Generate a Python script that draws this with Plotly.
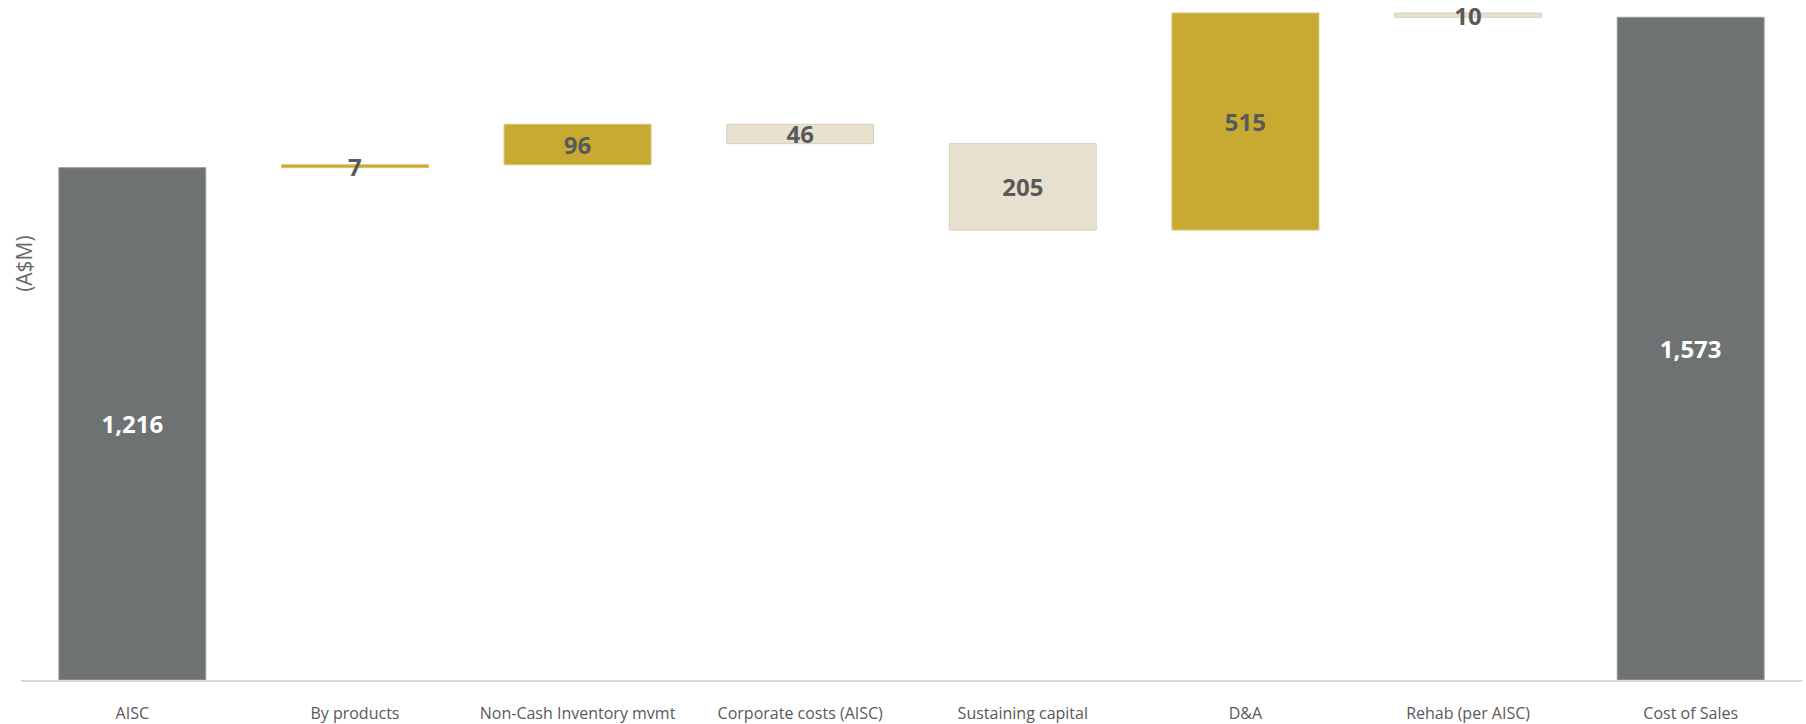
import plotly.graph_objects as go

# Reconciliation of AISC to cost of sales (A$M)
categories = [
    "AISC",
    "By products",
    "Non-Cash Inventory mvmt",
    "Corporate costs (AISC)",
    "Sustaining capital",
    "D&A",
    "Rehab (per AISC)",
    "Cost of Sales",
]
values = [1216, 7, 96, -46, -205, 515, -10, 1573]
measures = ["absolute", "relative", "relative", "relative",
            "relative", "relative", "relative", "total"]

GREY = "#6e7273"
GOLD = "#c8aa32"
BEIGE = "#e9e1cf"
LABEL = "#595959"

labels = [f"{abs(v):,}" for v in values]
label_colors = ["white" if m != "relative" else LABEL for m in measures]

fig = go.Figure(
    go.Waterfall(
        x=categories,
        y=values,
        measure=measures,
        text=labels,
        textposition="inside",
        constraintext="none",
        insidetextanchor="middle",
        cliponaxis=False,
        textfont=dict(family="Open Sans", size=24, color=label_colors, weight="bold"),
        textangle=0,
        increasing=dict(marker=dict(color=GOLD, line=dict(color="#d6c26e", width=1))),
        decreasing=dict(marker=dict(color=BEIGE, line=dict(color="#d6cfbd", width=1))),
        totals=dict(marker=dict(color=GREY, line=dict(color="#9a9d9e", width=1))),
        connector=dict(visible=False),
        width=0.66,
        hoverinfo="x+text",
    )
)

fig.add_annotation(
    text="(A$M)",
    xref="paper", yref="paper",
    x=0.0017, y=0.612,
    xanchor="center", yanchor="middle",
    textangle=-90,
    showarrow=False,
    font=dict(family="Open Sans", size=21, color="#6b6b6b"),
)

fig.update_layout(
    width=1806,
    height=724,
    margin=dict(l=21, r=4, t=0, b=44),
    paper_bgcolor="white",
    plot_bgcolor="white",
    showlegend=False,
    font=dict(family="Open Sans", color=LABEL),
)

fig.update_xaxes(
    showline=True,
    linecolor="#d9d9d9",
    linewidth=2,
    showgrid=False,
    ticks="",
    tickfont=dict(family="Open Sans", size=16, color=LABEL),
    ticklabelstandoff=18,
)

fig.update_yaxes(
    range=[0, 1614],
    visible=False,
    showgrid=False,
    zeroline=False,
)

fig.write_html("out.html")
